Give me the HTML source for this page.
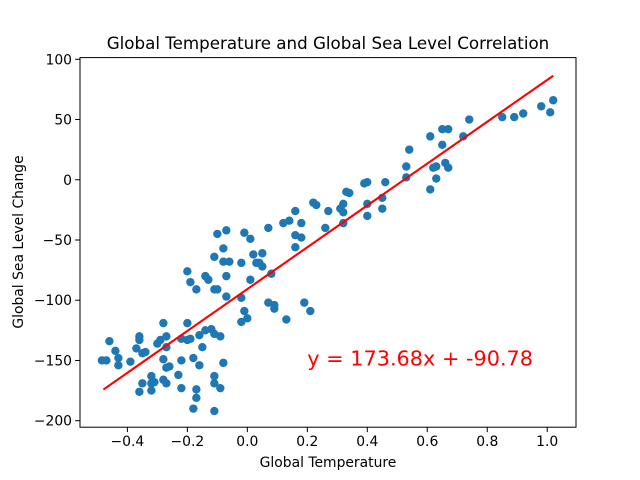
<!DOCTYPE html>
<html><head><meta charset="utf-8"><style>
html,body{margin:0;padding:0;background:#fff;}
svg{display:block;font-family:"DejaVu Sans","Liberation Sans",sans-serif;}
</style></head><body>
<svg id="chart" width="640" height="480" viewBox="0 0 640 480">
<rect x="0" y="0" width="640" height="480" fill="#fff"/>
<text x="328" y="49" text-anchor="middle" font-size="16.7" fill="#000">Global Temperature and Global Sea Level Correlation</text>
<text x="328" y="467" text-anchor="middle" font-size="13.9" fill="#000">Global Temperature</text>
<text x="0" y="0" transform="translate(23,242) rotate(-90)" text-anchor="middle" font-size="13.9" fill="#000">Global Sea Level Change</text>
<g id="marks"></g>
<g id="axes"></g>
</svg>
<script>
const tempX = [-0.485,-0.47,-0.46,-0.44,-0.43,-0.43,-0.39,-0.36,-0.36,-0.37,-0.35,-0.34,-0.28,-0.28,-0.30,-0.29,-0.27,-0.27,-0.27,-0.26,-0.32,-0.32,-0.35,-0.36,-0.32,-0.31,-0.28,-0.27,-0.23,-0.22,-0.22,-0.22,-0.20,-0.19,-0.20,-0.18,-0.16,-0.18,-0.17,-0.17,-0.15,-0.16,-0.14,-0.12,-0.11,-0.09,-0.08,-0.11,-0.11,-0.09,-0.11,-0.20,-0.19,-0.17,-0.14,-0.13,-0.11,-0.10,-0.10,-0.07,-0.08,-0.11,-0.08,-0.06,-0.07,-0.02,-0.01,0.01,0.02,0.05,0.05,0.08,-0.02,0.01,-0.01,-0.02,0.00,0.07,0.09,-0.07,
0.07,0.12,0.14,0.16,0.18,0.16,0.18,0.16,0.22,0.23,0.27,0.26,0.31,0.32,0.32,0.34,0.39,0.40,0.40,0.40,0.45,0.09,0.13,0.19,0.21,0.03,0.04,
0.33,0.32,0.46,0.45,0.53,0.53,0.54,0.61,0.62,0.63,0.63,0.61,0.65,0.67,0.65,0.66,0.67,0.72,0.74,0.85,0.89,0.92,0.98,1.02,1.01];
const seaY = [-150,-150,-134,-142,-148,-154,-151,-130,-133,-140,-144,-143,-119,-149,-136,-133,-130,-139,-156,-155,-163,-169,-169,-176,-175,-168,-166,-169,-162,-150,-173,-132,-133,-132,-119,-148,-154,-190,-174,-181,-139,-129,-125,-124,-128,-130,-152,-163,-169,-173,-192,-76,-85,-91,-80,-83,-91,-91,-45,-42,-57,-64,-68,-68,-80,-69,-44,-49,-62,-61,-72,-78,-98,-83,-109,-118,-115,-102,-104,-97,
-40,-36,-34,-26,-36,-46,-48,-56,-19,-21,-26,-40,-24,-20,-36,-11,-3,-2,-20,-30,-24,-107,-116,-102,-109,-69,-69,
-10,-27,-2,-15,11,2,25,36,10,11,1,-8,42,42,29,14,10,36,50,52,52,55,61,66,56];
const xTicks = [-0.4,-0.2,0.0,0.2,0.4,0.6,0.8,1.0];
const xTickLabels = ["−0.4","−0.2","0.0","0.2","0.4","0.6","0.8","1.0"];
const yTicks = [100,50,0,-50,-100,-150,-200];
const yTickLabels = ["100","50","0","−50","−100","−150","−200"];
const slope = [173.68];
const intercept = [-90.78];
const fitRange = [-0.48, 1.02];
const equationLabel = "y = 173.68x + -90.78";
const equationPos = [0.2, -150];

const NS = "http://www.w3.org/2000/svg";
const L = 80, R = 576, T = 57.6, B = 427.2;
const X0 = -0.558, X1 = 1.096, Y0 = -205.4, Y1 = 101.4;
function sx(v){ return L + (v - X0) / (X1 - X0) * (R - L); }
function sy(v){ return B - (v - Y0) / (Y1 - Y0) * (B - T); }
function mk(tag, attrs, parent){ const e = document.createElementNS(NS, tag); for (const k in attrs) e.setAttribute(k, attrs[k]); parent.appendChild(e); return e; }

const marks = document.getElementById('marks');
for (let i = 0; i < tempX.length; i++) {
  const c = mk('circle', {cx: sx(tempX[i]), cy: sy(seaY[i]), r: 4.2, fill: '#1f77b4'}, marks);
  
  
}
const line = mk('line', {x1: sx(fitRange[0]), y1: sy(slope[0]*fitRange[0]+intercept[0]), x2: sx(fitRange[1]), y2: sy(slope[0]*fitRange[1]+intercept[0]), stroke: '#ff0000', 'stroke-width': 2.1}, marks);


const eq = mk('text', {x: sx(equationPos[0]), y: sy(equationPos[1]) + 5, fill: '#ff0000', 'font-size': 20.8}, marks);
eq.textContent = equationLabel;



const axes = document.getElementById('axes');
const frame = mk('rect', {x: L, y: T, width: R - L, height: B - T, fill: 'none', stroke: '#000', 'stroke-width': 1}, axes);


for (let i = 0; i < xTicks.length; i++) {
  const x = sx(xTicks[i]);
  const t = mk('line', {x1: x, y1: B, x2: x, y2: B + 4.9, stroke: '#000', 'stroke-width': 1}, axes);
  
  
  const lb = mk('text', {x: x, y: B + 19, 'text-anchor': 'middle', 'font-size': 13.9, fill: '#000'}, axes);
  lb.textContent = xTickLabels[i];
  
  
}
for (let i = 0; i < yTicks.length; i++) {
  const y = sy(yTicks[i]);
  const t = mk('line', {x1: L - 4.9, y1: y, x2: L, y2: y, stroke: '#000', 'stroke-width': 1}, axes);
  
  
  const lb = mk('text', {x: L - 8, y: y + 5, 'text-anchor': 'end', 'font-size': 13.9, fill: '#000'}, axes);
  lb.textContent = yTickLabels[i];
  
  
}
</script>
</body></html>
